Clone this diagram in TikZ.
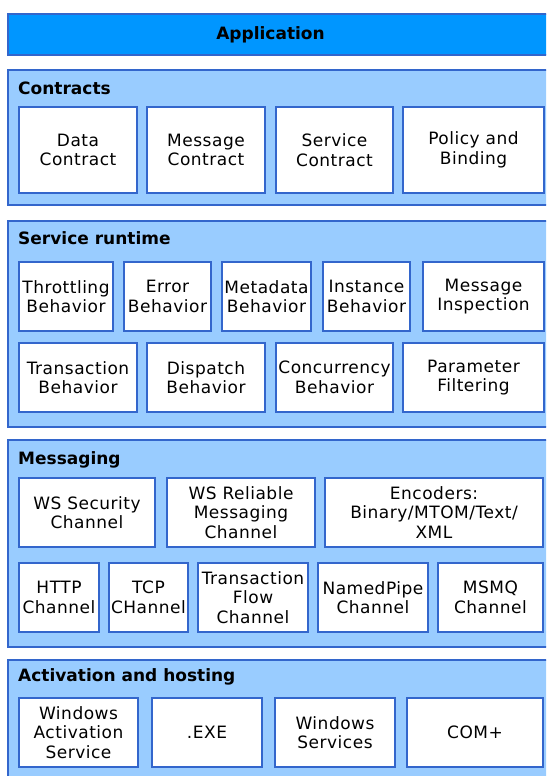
\documentclass[tikz,border=0pt]{standalone}
\usepackage{fontspec}
\setmainfont[LetterSpace=3, BoldFeatures={LetterSpace=0}]{DejaVu Sans}
\usetikzlibrary{positioning}

\definecolor{appblue}{RGB}{0,150,255}
\definecolor{layerblue}{RGB}{153,204,255}
\definecolor{edgeblue}{RGB}{51,102,204}

\tikzset{
  layer/.style={draw=edgeblue, fill=layerblue, line width=1.5pt, anchor=north west,
    inner sep=0pt, outer sep=0pt, minimum width=552pt},
  title/.style={anchor=base west, font=\bfseries, inner sep=0pt},
  blk/.style={draw=edgeblue, fill=white, line width=1.2pt, align=center,
    inner sep=0pt, outer sep=0pt, minimum height=69pt},
}

\begin{document}
\fontsize{17pt}{19.5pt}\selectfont
\begin{tikzpicture}[x=1pt, y=-1pt]
  \useasboundingbox (0,0) rectangle (546,776);
  \clip (0,0) rectangle (546,776);

  % layers
  \node[layer, fill=appblue, minimum height=41pt] (app) at (8,14) {};
  \node[font=\bfseries, inner sep=0pt, anchor=base] (apptitle) at (270.5,40) {Application};

  \node[layer, minimum height=135pt] (contracts) at (8,70) {};
  \node[title] (contractstitle) at (18,94) {Contracts};

  \node[layer, minimum height=206pt] (runtime) at (8,221) {};
  \node[title] (runtimetitle) at (18,244) {Service runtime};

  \node[layer, minimum height=207pt] (messaging) at (8,440) {};
  \node[title] (messagingtitle) at (18,464) {Messaging};

  \node[layer, minimum height=130pt] (hosting) at (8,660) {};
  \node[title] (hostingtitle) at (18,681) {Activation and hosting};

  % contracts
  \node[blk, minimum width=118pt, minimum height=86pt] (datac) at (78,150) {Data\\Contract};
  \node[blk, minimum width=118pt, minimum height=86pt, right=10pt of datac] (msgc) {Message\\Contract};
  \node[blk, minimum width=117pt, minimum height=86pt, right=11pt of msgc] (servc) {Service\\Contract};
  \node[blk, minimum width=141pt, minimum height=86pt, right=10pt of servc] (policy) {Policy and\\Binding};

  % service runtime
  \node[blk, minimum width=94pt] (throttle) at (66,296.5) {Throttling\\Behavior};
  \node[blk, minimum width=87pt, right=11pt of throttle] (error) {Error\\Behavior};
  \node[blk, minimum width=89pt, right=11pt of error] (metadata) {Metadata\\Behavior};
  \node[blk, minimum width=87pt, right=12pt of metadata] (instance) {Instance\\Behavior};
  \node[blk, minimum width=121pt, right=13pt of instance] (inspect) {Message\\Inspection};

  \node[blk, minimum width=118pt] (transact) at (78,377.5) {Transaction\\Behavior};
  \node[blk, minimum width=118pt, right=10pt of transact] (dispatch) {Dispatch\\Behavior};
  \node[blk, minimum width=117pt, right=11pt of dispatch] (concur) {Concurrency\\Behavior};
  \node[blk, minimum width=141pt, right=10pt of concur] (param) {Parameter\\Filtering};

  % messaging
  \node[blk, minimum width=136pt] (wssec) at (87,512.5) {WS Security\\Channel};
  \node[blk, minimum width=148pt, right=12pt of wssec] (wsrel) {WS Reliable\\Messaging\\Channel};
  \node[blk, minimum width=218pt, right=10pt of wsrel] (encoders) {Encoders:\\Binary/MTOM/Text/\\XML};

  \node[blk, minimum width=80pt] (http) at (59,597.5) {HTTP\\Channel};
  \node[blk, minimum width=79pt, right=10pt of http] (tcp) {TCP\\CHannel};
  \node[blk, minimum width=110pt, right=10pt of tcp] (txflow) {Transaction\\Flow\\Channel};
  \node[blk, minimum width=110pt, right=10pt of txflow] (npipe) {NamedPipe\\Channel};
  \node[blk, minimum width=105pt, right=10pt of npipe] (msmq) {MSMQ\\Channel};

  % activation and hosting
  \node[blk, minimum width=119pt] (was) at (78.5,732.5) {Windows\\Activation\\Service};
  \node[blk, minimum width=110pt, right=14pt of was] (exe) {.EXE};
  \node[blk, minimum width=120pt, right=13pt of exe] (winsvc) {Windows\\Services};
  \node[blk, minimum width=136pt, right=12pt of winsvc] (complus) {COM+};
\end{tikzpicture}
\end{document}
